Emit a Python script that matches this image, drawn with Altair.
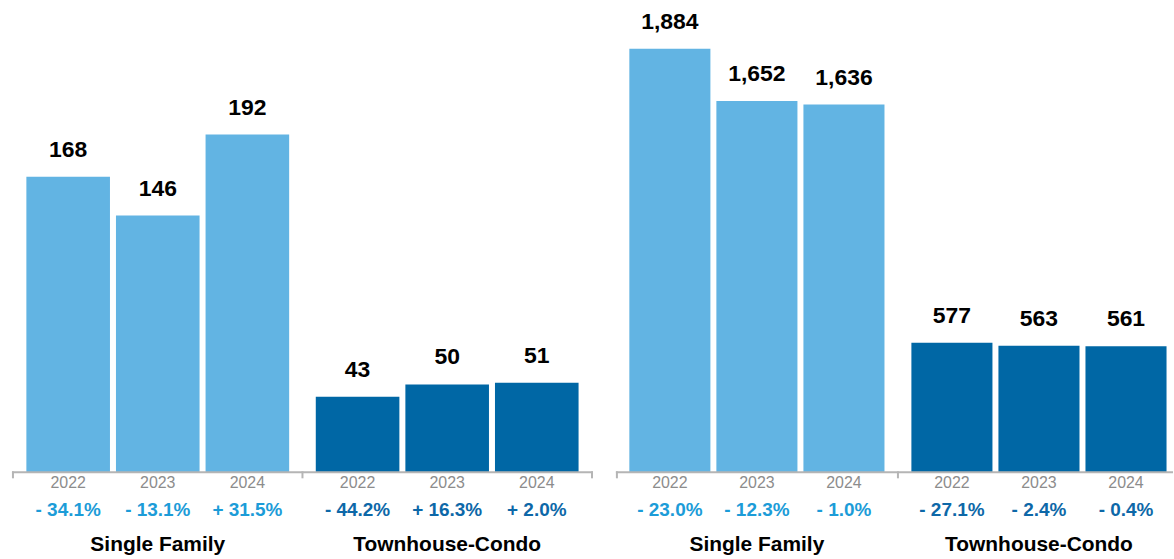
import altair as alt
import pandas as pd

groups = ["Single Family", "Townhouse-Condo"]
years = ["2022", "2023", "2024"]

left_values = [168, 146, 192, 43, 50, 51]
left_pct = [-34.1, -13.1, 31.5, -44.2, 16.3, 2.0]
right_values = [1884, 1652, 1636, 577, 563, 561]
right_pct = [-23.0, -12.3, -1.0, -27.1, -2.4, -0.4]

LIGHT = "#62B4E3"
DARK = "#0067A5"
LIGHT_T = "#1C9CD8"
DARK_T = "#0D68A8"
GRAY = "#B5B5B5"
FONT = "Liberation Sans"
H = 473


def fmt_pct(p):
    sign = "+" if p >= 0 else "-"
    return f"{sign} {abs(p):.1f}%"


def panel(values, pcts, width, ymax, pi, po, align, off_inner, right_tick=True):
    df = pd.DataFrame({
        "group": [g for g in groups for _ in years],
        "year": years * 2,
        "value": values,
        "pct": [fmt_pct(p) for p in pcts],
    })
    base = alt.Chart(df)
    x = alt.X("group:N", sort=groups, axis=None,
              scale=alt.Scale(domain=groups, paddingInner=pi, paddingOuter=po, align=align))
    xo = alt.XOffset("year:N", sort=years,
                     scale=alt.Scale(domain=years, paddingInner=off_inner, paddingOuter=0))
    y = alt.Y("value:Q", axis=None, scale=alt.Scale(domain=[0, ymax], nice=False, zero=True))

    bars = base.mark_bar(y2Offset=-5).encode(
        x=x, xOffset=xo, y=y,
        color=alt.Color("group:N", scale=alt.Scale(domain=groups, range=[LIGHT, DARK]), legend=None),
    )
    vlabels = base.mark_text(font=FONT, fontSize=23, fontWeight="bold", dy=-20,
                             baseline="alphabetic", color="#000000").encode(
        x=x, xOffset=xo, y=y, text=alt.Text("value:Q", format=","))
    ylabels = base.mark_text(font=FONT, fontSize=16, baseline="alphabetic", color="#8C8C8C").encode(
        x=x, xOffset=xo, y=alt.value(H + 16), text="year:N")
    plabels = base.mark_text(font=FONT, fontSize=19, fontWeight="bold", baseline="alphabetic").encode(
        x=x, xOffset=xo, y=alt.value(H + 44), text="pct:N",
        color=alt.Color("group:N", scale=alt.Scale(domain=groups, range=[LIGHT_T, DARK_T]), legend=None),
    )
    glabels = alt.Chart(pd.DataFrame({"group": groups})).mark_text(
        font=FONT, fontSize=21, fontWeight="bold", baseline="alphabetic", color="#000000").encode(
        x=x, y=alt.value(H + 79), text="group:N")

    one = alt.Chart(pd.DataFrame({"a": [0]}))
    line = one.mark_rule(color=GRAY, strokeWidth=2).encode(
        x=alt.value(0), x2=alt.value(width), y=alt.value(H))
    step = width / (2 - pi + 2 * po)
    start = step * po * 2 * align
    mid = start + step - pi * step / 2
    tick_pos = [1, mid]
    if right_tick:
        tick_pos.append(width - 1)
    ticks = [one.mark_rule(color=GRAY, strokeWidth=2).encode(
        x=alt.value(t), y=alt.value(H - 1), y2=alt.value(H + 6)) for t in tick_pos]

    return alt.layer(bars, vlabels, ylabels, plabels, glabels, line, *ticks).resolve_scale(
        color="independent").properties(width=width, height=H)


left = panel(left_values, left_pct, 583, 268, 0.092, 0.0498, 0.5, 0.067)
right = panel(right_values, right_pct, 559, 2097, 0.0954, 0.0353, 0.675, 0.0687, right_tick=False)

chart = alt.hconcat(left, right, spacing=21).resolve_scale(
    x="independent", xOffset="independent", y="independent", color="independent"
).properties(
    padding={"left": 11, "top": 0, "right": 0, "bottom": 0}
).configure_view(stroke=None)

chart.save("out.html", embed_options={"renderer": "svg", "actions": False})
